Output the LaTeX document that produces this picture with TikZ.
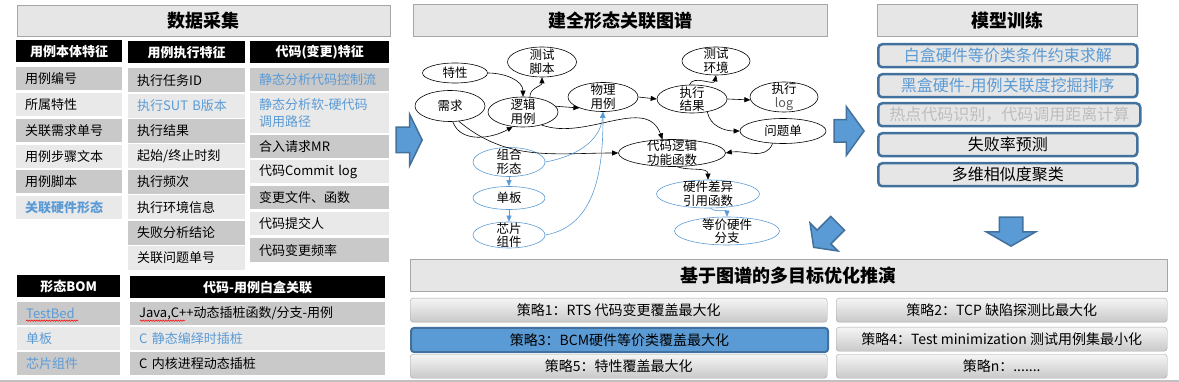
\documentclass[tikz,border=0pt]{standalone}
\usepackage{fontspec}
\setmainfont{Noto Sans CJK SC}
\usetikzlibrary{arrows.meta, positioning, shapes.geometric, shapes.arrows, calc, decorations.pathmorphing}

\definecolor{gTitle}{HTML}{E6E6E6}
\definecolor{gEdge}{HTML}{A6A6A6}
\definecolor{gDark}{HTML}{C9C9C9}
\definecolor{gLight}{HTML}{E9E9E9}
\definecolor{hwBlue}{HTML}{5B9BD5}
\definecolor{steel}{HTML}{41719C}
\definecolor{paleTxt}{HTML}{BDBDBD}

\tikzset{
  titlebox/.style={draw=gEdge, fill=gTitle, anchor=north west, inner sep=0pt, line width=0.8pt,
    font=\bfseries\fontsize{18}{20}\selectfont},
  hdr/.style={fill=black, text=white, anchor=north west, inner sep=0pt, minimum height=22pt,
    font=\bfseries\fontsize{13}{15}\selectfont},
  cell/.style={anchor=north west, inner xsep=9pt, inner ysep=0pt, align=left,
    font=\fontsize{13}{17}\selectfont},
  colA/.style={cell, minimum width=106pt, text width=88pt},
  colB/.style={cell, minimum width=117pt, text width=99pt},
  colC/.style={cell, minimum width=139pt, text width=121pt},
  colBom/.style={cell, minimum width=103pt, text width=85pt},
  colWb/.style={cell, minimum width=255pt, text width=237pt},
  gnode/.style={ellipse, draw, line width=0.6pt, inner xsep=0pt, inner ysep=-5pt, align=center,
    font=\fontsize{12.5}{13.5}\selectfont},
  bnode/.style={gnode, draw=hwBlue},
  garrow/.style={-{Triangle[length=6pt,width=5pt]}, line width=0.6pt},
  barrow/.style={garrow, hwBlue},
  modelbox/.style={draw=steel, line width=2.5pt, rounded corners=4pt, fill=gTitle, anchor=north west,
    inner sep=0pt, minimum height=23pt, font=\fontsize{16}{18}\selectfont},
  strat/.style={draw=gEdge, rounded corners=3pt, top color=gray!8, bottom color=gDark, anchor=north west,
    inner sep=0pt, minimum height=24pt, font=\fontsize{14}{16}\selectfont},
  bigarrow/.style={single arrow, fill=hwBlue, draw=steel, line width=1.5pt, inner xsep=0pt,
    inner ysep=#1, anchor=tip},
  squig/.style={red, line width=0.5pt, decorate, decoration={snake, amplitude=0.7pt, segment length=2.5pt}}
}

\begin{document}
\begin{tikzpicture}[x=1pt,y=-1pt]
  \useasboundingbox (0,0) rectangle (1179,382);

  % data collection
  \node[titlebox, minimum width=373pt, minimum height=31pt] (tData) at (17,5) {数据采集};
  \node[hdr, minimum width=106pt] (hUc) at (16,40) {用例本体特征};
  \node[hdr, minimum width=117pt] (hRun) at (128,41) {用例执行特征};
  \node[hdr, minimum width=139pt] (hCode) at (250,41) {代码(变更)特征};
  \foreach \t/\f/\c [count=\i] in {用例编号/gDark/black, 所属特性/gLight/black,
      关联需求单号/gDark/black, 用例步骤文本/gLight/black, 用例脚本/gDark/black,
      \textbf{关联硬件形态}/gLight/hwBlue} {
    \node[colA, fill=\f, text=\c, minimum height=23pt] (uc\i) at (16,{67+(\i-1)*25.8}) {\t};
  }
  \foreach \t/\f/\c [count=\i] in {执行任务ID/gDark/black, 执行SUT B版本/gLight/hwBlue,
      执行结果/gDark/black, {起始/终止时刻}/gLight/black, 执行频次/gDark/black,
      执行环境信息/gLight/black, 失败分析结论/gDark/black, 关联问题单号/gLight/black} {
    \node[colB, fill=\f, text=\c, minimum height=24pt] (run\i) at (128,{68+(\i-1)*25.4}) {\t};
  }
  \foreach \t/\y/\h/\f/\c [count=\i] in {静态分析代码控制流/68/23/gDark/hwBlue,
      {静态分析软-硬代码\\调用路径}/93/40/gLight/hwBlue, 合入请求MR/135/23/gDark/black,
      代码Commit log/160/23/gLight/black, 变更文件、函数/186/23/gDark/black,
      代码提交人/212/23/gLight/black, 代码变更频率/238/24/gDark/black} {
    \node[colC, fill=\f, text=\c, minimum height=\h pt] (code\i) at (250,\y) {\t};
  }

  % BOM and white-box
  \node[hdr, minimum width=103pt] (hBom) at (17,275) {形态BOM};
  \node[hdr, minimum width=255pt] (hWb) at (130,276) {代码-用例白盒关联};
  \foreach \t/\f [count=\i] in {TestBed/gDark, 单板/gLight, 芯片组件/gDark} {
    \node[colBom, fill=\f, text=hwBlue, minimum height=23pt] (bom\i) at (17,{302+(\i-1)*25}) {\t};
  }
  \foreach \t/\f/\c [count=\i] in {{Java,C++动态插桩函数/分支-用例}/gDark/black,
      C 静态编绎时插桩/gLight/hwBlue, C 内核进程动态插桩/gDark/black} {
    \node[colWb, fill=\f, text=\c, minimum height=23pt] (wb\i) at (130,{302+(\i-1)*25}) {\t};
  }
  \draw[squig] ($(bom1.west)+(9,7)$) -- ++(52,0);
  \draw[squig] ($(wb1.west)+(10,7)$) -- ++(45,0);

  % graph
  \node[titlebox, minimum width=414pt, minimum height=32pt] (tGraph) at (413,4) {建全形态关联图谱};
  \node[gnode, minimum width=65pt, minimum height=20pt] (feat) at (455,73) {特性};
  \node[gnode, minimum width=70pt, minimum height=31pt] (req) at (450,106) {需求};
  \node[gnode, minimum width=69pt, minimum height=30pt] (script) at (542,62) {测试\\脚本};
  \node[gnode, minimum width=70pt, minimum height=30pt] (lcase) at (523,112) {逻辑\\用例};
  \node[gnode, minimum width=70pt, minimum height=29pt] (pcase) at (603,97) {物理\\用例};
  \node[gnode, minimum width=70pt, minimum height=28pt] (result) at (692,99) {执行\\结果};
  \node[gnode, minimum width=68pt, minimum height=28pt] (env) at (716,61) {测试\\环境};
  \node[gnode, minimum width=68pt, minimum height=30pt] (log) at (784,97) {执行\\{\color{black!65}log}};
  \node[gnode, minimum width=86pt, minimum height=25pt] (bug) at (783,131) {问题单};
  \node[gnode, minimum width=107pt, minimum height=27pt] (func) at (672,153) {代码逻辑\\功能函数};
  \node[bnode, minimum width=72pt, minimum height=29pt] (combo) at (509,162) {组合\\形态};
  \node[bnode, minimum width=72pt, minimum height=23pt] (board) at (509,198) {单板};
  \node[bnode, minimum width=72pt, minimum height=26pt] (chip) at (509,235) {芯片\\组件};
  \node[bnode, minimum width=103pt, minimum height=28pt] (hwdiff) at (708,194) {硬件差异\\引用函数};
  \node[bnode, minimum width=105pt, minimum height=28pt] (eqbr) at (727,231) {等价硬件\\分支};

  \draw[garrow] (feat.east) to[out=0,in=90] (lcase.north);
  \draw[garrow] (lcase.65) to[out=95,in=-90] (script.south);
  \draw[garrow] (req.-80) to[out=-70,in=210] (lcase.235);
  \draw[garrow] (req.-60) to[out=-40,in=180] (func.west);
  \draw[garrow] (lcase.-35) to[out=-20,in=110] (func.125);
  \draw[garrow] (lcase.10) -- (pcase.205);
  \draw[garrow] (pcase.east) -- (result.west);
  \draw[garrow] (result.100) to[out=70,in=-100] (env.south);
  \draw[garrow] (result.east) -- (log.185);
  \draw[garrow] (result.-40) to[out=-80,in=180] (bug.west);
  \draw[garrow] (bug.-130) to[out=-110,in=10] (func.east);
  \draw[garrow] (func.-70) to[out=-20,in=90] (hwdiff.north);
  \draw[barrow] (combo.south) -- (board.north);
  \draw[barrow] (board.south) -- (chip.north);
  \draw[barrow] (combo.east) to[out=10,in=-95] (pcase.south);
  \draw[barrow] (chip.east) to[out=10,in=-90] (pcase.south);
  \draw[barrow] (hwdiff.-80) to[out=-40,in=90] (eqbr.north);

  % model training
  \node[titlebox, minimum width=260pt, minimum height=32pt] (tModel) at (877,4) {模型训练};
  \node[modelbox, minimum width=259pt, text=hwBlue] (m1) at (877,43) {白盒硬件等价类条件约束求解};
  \node[modelbox, minimum width=259pt, text=hwBlue] (m2) at (877,73) {黑盒硬件-用例关联度挖掘排序};
  \node[modelbox, minimum width=262pt, text=paleTxt] (m3) at (877,102) {热点代码识别，代码调用距离计算};
  \node[modelbox, minimum width=259pt] (m4) at (877,132) {失败率预测};
  \node[modelbox, minimum width=259pt] (m5) at (877,162) {多维相似度聚类};

  % optimisation
  \node[titlebox, minimum width=757pt, minimum height=32pt] (tOpt) at (410,259) {基于图谱的多目标优化推演};
  \node[strat, minimum width=417pt] (s1) at (410,298) {策略1：RTS 代码变更覆盖最大化};
  \node[strat, minimum width=331pt] (s2) at (836,298) {策略2：TCP 缺陷探测比最大化};
  \node[strat, minimum width=417pt, draw=steel, line width=2pt, top color=hwBlue, bottom color=hwBlue]
    (s3) at (410,327) {策略3：BCM硬件等价类覆盖最大化};
  \node[strat, minimum width=331pt] (s4) at (836,327) {策略4：Test minimization 测试用例集最小化};
  \node[strat, minimum width=417pt] (s5) at (410,354) {策略5：特性覆盖最大化};
  \node[strat, minimum width=331pt] (sn) at (836,354) {策略n：.......};

  % block arrows
  \node[bigarrow=12pt, minimum height=26pt, single arrow head extend=13pt,
    single arrow tip angle=128] (aIn) at (423,140) {};
  \node[bigarrow=10.5pt, minimum height=30pt, single arrow head extend=13pt,
    single arrow tip angle=108] (aMid) at (865,131) {};
  \node[bigarrow=9pt, minimum height=34pt, single arrow head extend=10pt,
    single arrow tip angle=107, rotate=225] (aDiag) at (813,248) {};
  \node[bigarrow=11pt, minimum height=29pt, single arrow head extend=13pt,
    single arrow tip angle=120, rotate=270] (aDown) at (1011,247) {};

  \draw[gEdge!70, line width=1.5pt] (0,381) -- (1179,381);
\end{tikzpicture}
\end{document}
